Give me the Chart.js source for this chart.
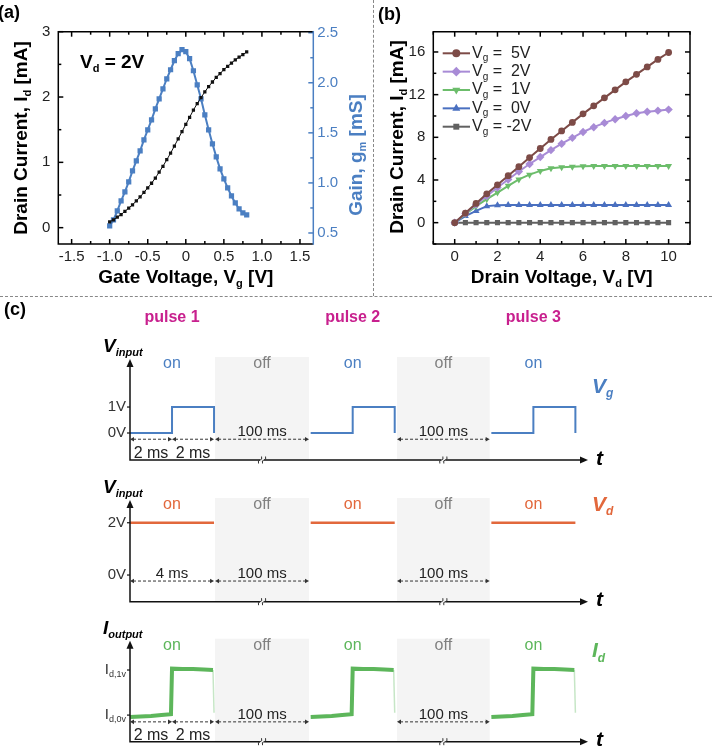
<!DOCTYPE html>
<html>
<head>
<meta charset="utf-8">
<script src="https://cdn.jsdelivr.net/npm/chart.js@4.4.1/dist/chart.umd.min.js"></script>
<style>
html, body { margin: 0; padding: 0; background: #fff; }
#fig { position: relative; width: 712px; height: 751px; overflow: hidden; background: #fff; }
canvas { position: absolute; }
.vdash { position: absolute; left: 373px; top: 0; height: 296px; border-left: 1px dashed #888; }
.hdash { position: absolute; left: 0; top: 296px; width: 712px; border-top: 1px dashed #888; }
</style>
</head>
<body>
<div id="fig">
  <canvas id="ca" width="370" height="295" style="left:0;top:0"></canvas>
  <canvas id="cb" width="339" height="295" style="left:373px;top:0"></canvas>
  <div class="vdash"></div>
  <div class="hdash"></div>
  <canvas id="c1" width="712" height="170" style="left:0;top:300px"></canvas>
  <canvas id="c2" width="712" height="142" style="left:0;top:470px"></canvas>
  <canvas id="c3" width="712" height="139" style="left:0;top:612px"></canvas>
</div>
<script>
// (a) transfer curve at Vd = 2V
const gateV = [-1.00, -0.95, -0.90, -0.85, -0.80, -0.75, -0.70, -0.65, -0.60, -0.55, -0.50, -0.45, -0.40,
  -0.35, -0.30, -0.25, -0.20, -0.15, -0.10, -0.05, 0.00, 0.05, 0.10, 0.15, 0.20, 0.25, 0.30, 0.35, 0.40,
  0.45, 0.50, 0.55, 0.60, 0.65, 0.70, 0.75, 0.80];
const drainI = [0.09, 0.12, 0.16, 0.20, 0.25, 0.30, 0.35, 0.41, 0.47, 0.54, 0.61, 0.68, 0.76,
  0.85, 0.94, 1.04, 1.14, 1.25, 1.36, 1.47, 1.58, 1.69, 1.80, 1.90, 1.99, 2.08, 2.16, 2.23, 2.30,
  2.36, 2.42, 2.47, 2.52, 2.57, 2.61, 2.65, 2.69];
const gain = [0.57, 0.63, 0.72, 0.82, 0.91, 1.01, 1.12, 1.22, 1.32, 1.43, 1.53, 1.63, 1.74,
  1.84, 1.94, 2.04, 2.13, 2.22, 2.29, 2.33, 2.31, 2.24, 2.12, 1.98, 1.84, 1.68, 1.53, 1.39, 1.26,
  1.14, 1.04, 0.95, 0.87, 0.80, 0.74, 0.70, 0.68];
const aXTicks = [-1.5, -1, -0.5, 0, 0.5, 1, 1.5];
const aYTicks = [0, 1, 2, 3];
const aY1Ticks = [0.5, 1, 1.5, 2, 2.5];

// (b) output curves
const drainV = [0, 0.5, 1, 1.5, 2, 2.5, 3, 3.5, 4, 4.5, 5, 5.5, 6, 6.5, 7, 7.5, 8, 8.5, 9, 9.5, 10];
const idVg5 = [0, 0.9, 1.8, 2.7, 3.55, 4.4, 5.25, 6.1, 6.95, 7.8, 8.6, 9.4, 10.2, 10.95, 11.7, 12.45, 13.2, 13.9, 14.6, 15.3, 15.95];
const idVg2 = [0, 0.85, 1.7, 2.5, 3.3, 4.05, 4.8, 5.5, 6.15, 6.8, 7.4, 7.95, 8.5, 8.95, 9.35, 9.7, 10.0, 10.25, 10.4, 10.5, 10.6];
const idVg1 = [0, 0.8, 1.55, 2.2, 2.82, 3.45, 4.05, 4.5, 4.85, 5.1, 5.2, 5.25, 5.28, 5.3, 5.3, 5.3, 5.3, 5.3, 5.3, 5.3, 5.3];
const idVg0 = [0, 0.62, 1.1, 1.55, 1.63, 1.65, 1.65, 1.65, 1.65, 1.65, 1.65, 1.65, 1.65, 1.65, 1.65, 1.65, 1.65, 1.65, 1.65, 1.65, 1.65];
const idVgm2 = [0, 0, 0, 0, 0, 0, 0, 0, 0, 0, 0, 0, 0, 0, 0, 0, 0, 0, 0, 0, 0];
const vgLabels = ['=  5V', '=  2V', '=  1V', '=  0V', '= -2V'];
const bXTicks = [0, 2, 4, 6, 8, 10];
const bYTicks = [0, 4, 8, 12, 16];

// (c) pulse timing, time axis in ms with the 100 ms off gaps compressed
const pulseNames = ['pulse 1', 'pulse 2', 'pulse 3'];
const pulseStarts = [0, 8.6, 17.2];
const offStart = [4.05, 12.71];
const offEnd = [8.52, 17.12];
const vgTime = [0, 2, 2, 4, 4];
const vgVolt = [0, 0, 1, 1, 0];
const vdTime = [0, 4];
const vdVolt = [2, 2];
const idTime = [0, 0.5, 1, 1.5, 1.95, 2, 2.5, 3, 3.5, 3.95, 4];
const idLevel = [-0.04, -0.03, -0.02, 0.0, 0.02, 1.03, 1.02, 1.02, 1.01, 1.0, 0.05];

const FONT = '"Liberation Sans", Arial, Helvetica, sans-serif';
const BLUE = '#4b7fc2';
const ORANGE = '#e2683c';
const GREEN = '#5db65b';
const MAGENTA = '#c8208e';
Chart.defaults.font.family = FONT;

// text with subscripts, parts are strings or {sub: '...'}
function rich(ctx, x, y, parts, o) {
  const size = o.size;
  const subSize = o.subSize || Math.round(size * 0.6);
  const style = (o.italic ? 'italic ' : '') + (o.weight || 'normal');
  const main = `${style} ${size}px ${FONT}`;
  const small = `${style} ${subSize}px ${FONT}`;
  const items = parts.map(p => (typeof p === 'string' ? { t: p, s: false } : { t: p.sub, s: true }));
  ctx.save();
  ctx.fillStyle = o.color || '#000';
  ctx.textBaseline = 'middle';
  ctx.textAlign = 'left';
  let w = 0;
  items.forEach(p => {
    ctx.font = p.s ? small : main;
    w += ctx.measureText(p.t).width;
  });
  ctx.translate(x, y);
  if (o.rotate) ctx.rotate(-Math.PI / 2);
  let cx = o.align === 'left' ? 0 : o.align === 'right' ? -w : -w / 2;
  items.forEach(p => {
    ctx.font = p.s ? small : main;
    ctx.fillText(p.t, cx, p.s ? size * 0.32 : 0);
    cx += ctx.measureText(p.t).width;
  });
  ctx.restore();
}

function tickMarks(major, scale) {
  const step = major[1] - major[0];
  const res = major.map(v => [v, 5]);
  [major[0] - step / 2, ...major.map(v => v + step / 2)].forEach(v => res.push([v, 3]));
  return res.filter(([v]) => v >= scale.min - 1e-9 && v <= scale.max + 1e-9);
}

// box with inward major/minor ticks on all sides
const framePlugin = {
  id: 'frame',
  afterDatasetsDraw(chart, args, o) {
    const { ctx, chartArea: a } = chart;
    const sx = chart.scales.x, sy = chart.scales.y, sy1 = chart.scales.y1;
    ctx.save();
    ctx.lineWidth = 1.5;
    const seg = (x1, y1, x2, y2, c) => {
      ctx.strokeStyle = c;
      ctx.beginPath();
      ctx.moveTo(x1, y1);
      ctx.lineTo(x2, y2);
      ctx.stroke();
    };
    tickMarks(o.x, sx).forEach(([v, len]) => {
      const p = sx.getPixelForValue(v);
      seg(p, a.bottom, p, a.bottom - len, '#000');
      seg(p, a.top, p, a.top + len, '#000');
    });
    tickMarks(o.y, sy).forEach(([v, len]) => {
      const p = sy.getPixelForValue(v);
      seg(a.left, p, a.left + len, p, '#000');
      if (!sy1) seg(a.right, p, a.right - len, p, '#000');
    });
    if (sy1) {
      tickMarks(o.y1, sy1).forEach(([v, len]) => {
        const p = sy1.getPixelForValue(v);
        seg(a.right, p, a.right - len, p, o.y1Color);
      });
    }
    ctx.strokeStyle = '#000';
    ctx.beginPath();
    ctx.moveTo(a.right, a.top);
    ctx.lineTo(a.left, a.top);
    ctx.lineTo(a.left, a.bottom);
    ctx.lineTo(a.right, a.bottom);
    ctx.stroke();
    seg(a.right, a.top - 0.75, a.right, a.bottom + 0.75, sy1 ? o.y1Color : '#000');
    ctx.restore();
  }
};

function axisOpts(min, max, ticks, fmt, extra) {
  return Object.assign({
    type: 'linear',
    min: min,
    max: max,
    grid: { display: false, drawTicks: false },
    border: { display: false },
    afterBuildTicks: s => { s.ticks = ticks.map(v => ({ value: v })); },
    ticks: { color: '#222', font: { size: 15 }, autoSkip: false, maxRotation: 0, callback: fmt }
  }, extra);
}

// ---------- panel (a) ----------
const textA = {
  id: 'textA',
  afterDraw(chart) {
    const { ctx, chartArea: a } = chart;
    rich(ctx, -2, 13, ['(a)'], { size: 18, weight: 'bold', align: 'left' });
    rich(ctx, 22, 138, ['Drain Current, I', { sub: 'd' }, ' [mA]'], { size: 19, weight: 'bold', rotate: true });
    rich(ctx, 357, 155, ['Gain, g', { sub: 'm' }, ' [mS]'], { size: 19, weight: 'bold', rotate: true, color: BLUE });
    rich(ctx, (a.left + a.right) / 2, 278, ['Gate Voltage, V', { sub: 'g' }, ' [V]'], { size: 19, weight: 'bold' });
    rich(ctx, 80, 63, ['V', { sub: 'd' }, ' = 2V'], { size: 19, weight: 'bold', align: 'left' });
  }
};

const xa = axisOpts(-1.675, 1.675, aXTicks, v => (v === 0 ? '0' : v.toFixed(1)), { afterFit: s => { s.height = 51; } });
xa.ticks.padding = 4;
const ya = axisOpts(-0.25, 3.0, aYTicks, v => String(v), { position: 'left', afterFit: s => { s.width = 58.3; } });
ya.ticks.padding = 8;
const ya1 = axisOpts(0.39, 2.51, aY1Ticks, v => v.toFixed(1), { position: 'right', afterFit: s => { s.width = 56.7; } });
ya1.ticks.padding = 4;
ya1.ticks.color = BLUE;

new Chart(document.getElementById('ca'), {
  type: 'scatter',
  data: {
    datasets: [
      {
        label: 'Drain current',
        data: gateV.map((v, i) => ({ x: v, y: drainI[i] })),
        yAxisID: 'y',
        showLine: true,
        borderColor: '#111',
        backgroundColor: '#111',
        borderWidth: 1,
        pointStyle: 'rect',
        pointRadius: 2.3,
        pointBorderWidth: 0
      },
      {
        label: 'Gain',
        data: gateV.map((v, i) => ({ x: v, y: gain[i] })),
        yAxisID: 'y1',
        showLine: true,
        borderColor: BLUE,
        backgroundColor: BLUE,
        borderWidth: 2,
        pointStyle: 'rect',
        pointRadius: 3.7,
        pointBorderWidth: 0
      }
    ]
  },
  options: {
    responsive: false,
    animation: false,
    events: [],
    layout: { padding: { left: 0, right: 0, top: 31.7, bottom: 0 } },
    plugins: {
      legend: { display: false },
      tooltip: { enabled: false },
      frame: { x: aXTicks, y: aYTicks, y1: aY1Ticks, y1Color: BLUE }
    },
    scales: { x: xa, y: ya, y1: ya1 }
  },
  plugins: [framePlugin, textA]
});

// ---------- panel (b) ----------
const bSeries = [
  { data: idVg5, color: '#7d4b47', style: 'circle', r: 3.4, rot: 0 },
  { data: idVg2, color: '#a88bd6', style: 'rectRot', r: 4.2, rot: 0 },
  { data: idVg1, color: '#6cbd6b', style: 'triangle', r: 4, rot: 180 },
  { data: idVg0, color: '#4a70c0', style: 'triangle', r: 4, rot: 0 },
  { data: idVgm2, color: '#616161', style: 'rect', r: 3.6, rot: 0 }
];

const textB = {
  id: 'textB',
  afterDraw(chart) {
    const { ctx, chartArea: a } = chart;
    rich(ctx, 5, 15, ['(b)'], { size: 18, weight: 'bold', align: 'left' });
    rich(ctx, 25, 137, ['Drain Current, I', { sub: 'd' }, ' [mA]'], { size: 19, weight: 'bold', rotate: true });
    rich(ctx, (a.left + a.right) / 2, 278, ['Drain Voltage, V', { sub: 'd' }, ' [V]'], { size: 19, weight: 'bold' });
    bSeries.forEach((s, i) => {
      const y = a.top + 21.6 + i * 18.35;
      ctx.save();
      ctx.strokeStyle = s.color;
      ctx.fillStyle = s.color;
      ctx.lineWidth = 2;
      ctx.beginPath();
      ctx.moveTo(a.left + 9.4, y);
      ctx.lineTo(a.left + 36.7, y);
      ctx.stroke();
      Chart.helpers.drawPoint(ctx, { pointStyle: s.style, radius: s.r + 0.6, rotation: s.rot, borderWidth: 0 }, a.left + 23, y);
      ctx.restore();
      rich(ctx, a.left + 38.7, y, ['V', { sub: 'g' }, ' ' + vgLabels[i]], { size: 16, align: 'left', color: '#222', subSize: 10 });
    });
  }
};

const xb = axisOpts(-1, 11, bXTicks, v => String(v), { afterFit: s => { s.height = 51; } });
xb.ticks.padding = 4;
const yb = axisOpts(-2, 17.9, bYTicks, v => String(v), { position: 'left', afterFit: s => { s.width = 60.3; } });
yb.ticks.padding = 8;

new Chart(document.getElementById('cb'), {
  type: 'scatter',
  data: {
    datasets: bSeries.map((s, i) => ({
      label: 'Vg ' + vgLabels[i],
      data: drainV.map((v, j) => ({ x: v, y: s.data[j] })),
      showLine: true,
      borderColor: s.color,
      backgroundColor: s.color,
      borderWidth: 2,
      pointStyle: s.style,
      pointRadius: s.r,
      rotation: s.rot,
      pointBorderWidth: 0
    }))
  },
  options: {
    responsive: false,
    animation: false,
    events: [],
    layout: { padding: { left: 0, right: 22, top: 31.7, bottom: 0 } },
    plugins: {
      legend: { display: false },
      tooltip: { enabled: false },
      frame: { x: bXTicks, y: bYTicks }
    },
    scales: { x: xb, y: yb }
  },
  plugins: [framePlugin, textB]
});

// ---------- panel (c) ----------
function wave(times, values) {
  const pts = [];
  pulseStarts.forEach(s => {
    times.forEach((t, j) => pts.push({ x: s + t, y: values[j] }));
    pts.push({ x: s + times[times.length - 1] + 0.02, y: null });
  });
  return pts;
}

function dimLine(ctx, x1, x2, y) {
  ctx.save();
  ctx.strokeStyle = '#333';
  ctx.fillStyle = '#333';
  ctx.lineWidth = 1;
  ctx.setLineDash([3, 2]);
  ctx.beginPath();
  ctx.moveTo(x1 + 3, y);
  ctx.lineTo(x2 - 3, y);
  ctx.stroke();
  ctx.setLineDash([]);
  [[x1, 1], [x2, -1]].forEach(([x, d]) => {
    ctx.beginPath();
    ctx.moveTo(x, y);
    ctx.lineTo(x + 4 * d, y - 2.3);
    ctx.lineTo(x + 4 * d, y + 2.3);
    ctx.closePath();
    ctx.fill();
  });
  ctx.restore();
}

const SHADE = '#f4f4f4';
const timingPlugin = {
  id: 'timing',
  beforeDatasetsDraw(chart) {
    const { ctx, chartArea: a, scales: { x } } = chart;
    ctx.save();
    ctx.fillStyle = SHADE;
    offStart.forEach((s, i) => {
      const x1 = x.getPixelForValue(s), x2 = x.getPixelForValue(offEnd[i]);
      ctx.fillRect(x1, a.top - 2, x2 - x1, a.bottom - a.top + 2);
    });
    ctx.restore();
  },
  afterDatasetsDraw(chart, args, o) {
    const { ctx, chartArea: a, scales: { x, y } } = chart;
    ctx.save();
    // axes with arrow heads
    ctx.strokeStyle = '#111';
    ctx.fillStyle = '#111';
    ctx.lineWidth = 1.5;
    ctx.beginPath();
    ctx.moveTo(a.left, a.top + 5);
    ctx.lineTo(a.left, a.bottom);
    ctx.lineTo(a.right - 5, a.bottom);
    ctx.stroke();
    ctx.beginPath();
    ctx.moveTo(a.left, a.top);
    ctx.lineTo(a.left - 3.5, a.top + 8);
    ctx.lineTo(a.left + 3.5, a.top + 8);
    ctx.closePath();
    ctx.fill();
    ctx.beginPath();
    ctx.moveTo(a.right, a.bottom);
    ctx.lineTo(a.right - 8, a.bottom - 3.5);
    ctx.lineTo(a.right - 8, a.bottom + 3.5);
    ctx.closePath();
    ctx.fill();
    // break marks on the time axis
    offStart.forEach((s, i) => {
      const bx = x.getPixelForValue((s + offEnd[i]) / 2);
      ctx.fillStyle = SHADE;
      ctx.fillRect(bx - 2, a.bottom - 2, 4, 4);
      ctx.lineWidth = 1;
      ctx.strokeStyle = '#333';
      [-2, 2].forEach(d => {
        ctx.beginPath();
        ctx.moveTo(bx + d - 1.5, a.bottom + 3.5);
        ctx.quadraticCurveTo(bx + d - 2.5, a.bottom, bx + d, a.bottom);
        ctx.quadraticCurveTo(bx + d + 2.5, a.bottom, bx + d + 1.5, a.bottom - 3.5);
        ctx.stroke();
      });
    });
    // level labels with small ticks
    ctx.lineWidth = 1.2;
    ctx.strokeStyle = '#111';
    o.levels.forEach(([v, parts]) => {
      const py = y.getPixelForValue(v);
      ctx.beginPath();
      ctx.moveTo(a.left - 3, py);
      ctx.lineTo(a.left, py);
      ctx.stroke();
      rich(ctx, a.left - 4, py, parts, { size: 15, align: 'right', color: '#333', subSize: 9 });
    });
    ctx.restore();
    // axis names
    rich(ctx, a.left - 27, a.top - 12, o.yName, { size: 19, weight: 'bold', italic: true, align: 'left', subSize: 11 });
    rich(ctx, a.right + 8, a.bottom - 1, ['t'], { size: 21, weight: 'bold', italic: true, align: 'left' });
    rich(ctx, a.right + 4, a.top + o.sideY, o.side, { size: 21, weight: 'bold', italic: true, align: 'left', color: o.color, subSize: 12 });
    // on / off
    pulseStarts.forEach(s => {
      rich(ctx, x.getPixelForValue(s + 2), a.top + 5, ['on'], { size: 16, color: o.color });
    });
    offStart.forEach((s, i) => {
      rich(ctx, x.getPixelForValue((s + offEnd[i]) / 2), a.top + 5, ['off'], { size: 16, color: '#808080' });
    });
    // dimension arrows
    const dy = y.getPixelForValue(o.dimY);
    o.dims.forEach(([t1, t2, label, below]) => {
      const x1 = x.getPixelForValue(t1), x2 = x.getPixelForValue(t2);
      dimLine(ctx, x1, x2, dy);
      rich(ctx, (x1 + x2) / 2, below ? dy + 14 : dy - 7, [label], { size: below ? 16 : 15, color: '#222' });
    });
    if (o.header) {
      rich(ctx, 4, 10, ['(c)'], { size: 18, weight: 'bold', align: 'left' });
      pulseStarts.forEach((s, i) => {
        rich(ctx, x.getPixelForValue(s + 2), 18, [pulseNames[i]], { size: 16, weight: 'bold', color: MAGENTA });
      });
    }
  }
};

const offDims = offStart.map((s, i) => [s, offEnd[i], '100 ms', false]);

function timingChart(id, pad, yMin, yMax, dataset, opts) {
  return new Chart(document.getElementById(id), {
    type: 'line',
    data: { datasets: [dataset] },
    options: {
      responsive: false,
      animation: false,
      events: [],
      layout: { padding: pad },
      plugins: { legend: { display: false }, tooltip: { enabled: false }, timing: opts },
      scales: {
        x: { type: 'linear', display: false, min: 0, max: 21.8 },
        y: { type: 'linear', display: false, min: yMin, max: yMax }
      }
    },
    plugins: [timingPlugin]
  });
}

timingChart('c1', { left: 130, right: 124, top: 59, bottom: 10 }, -1.04, 2.85, {
  label: 'Vg',
  data: wave(vgTime, vgVolt),
  borderColor: BLUE,
  borderWidth: 2,
  pointRadius: 0,
  tension: 0,
  spanGaps: false,
  borderJoinStyle: 'miter'
}, {
  header: true,
  color: BLUE,
  yName: ['V', { sub: 'input' }],
  side: ['V', { sub: 'g' }],
  sideY: 28,
  levels: [[1, ['1V']], [0, ['0V']]],
  dimY: -0.24,
  dims: [[0, 2, '2 ms', true], [2, 4, '2 ms', true]].concat(offDims)
});

timingChart('c2', { left: 130, right: 124, top: 30, bottom: 10.3 }, -1.02, 2.87, {
  label: 'Vd',
  data: wave(vdTime, vdVolt),
  borderColor: ORANGE,
  borderWidth: 2.5,
  pointRadius: 0,
  tension: 0,
  spanGaps: false
}, {
  color: ORANGE,
  yName: ['V', { sub: 'input' }],
  side: ['V', { sub: 'd' }],
  sideY: 5,
  levels: [[2, ['2V']], [0, ['0V']]],
  dimY: -0.23,
  dims: [[0, 4, '4 ms', false]].concat(offDims)
});

const fall = c => c.p0.parsed.y - c.p1.parsed.y > 0.5;
timingChart('c3', { left: 130, right: 124, top: 28.7, bottom: 9.3 }, -0.59, 1.65, {
  label: 'Id',
  data: wave(idTime, idLevel),
  borderColor: GREEN,
  borderWidth: 4,
  pointRadius: 0,
  tension: 0,
  spanGaps: false,
  segment: {
    borderColor: c => (fall(c) ? 'rgba(93,182,91,0.35)' : undefined),
    borderWidth: c => (fall(c) ? 1.5 : undefined)
  }
}, {
  color: GREEN,
  yName: ['I', { sub: 'output' }],
  side: ['I', { sub: 'd' }],
  sideY: 11,
  levels: [[1, ['I', { sub: 'd,1v' }]], [0, ['I', { sub: 'd,0v' }]]],
  dimY: -0.15,
  dims: [[0, 2, '2 ms', true], [2, 4, '2 ms', true]].concat(offDims)
});
</script>
</body>
</html>
